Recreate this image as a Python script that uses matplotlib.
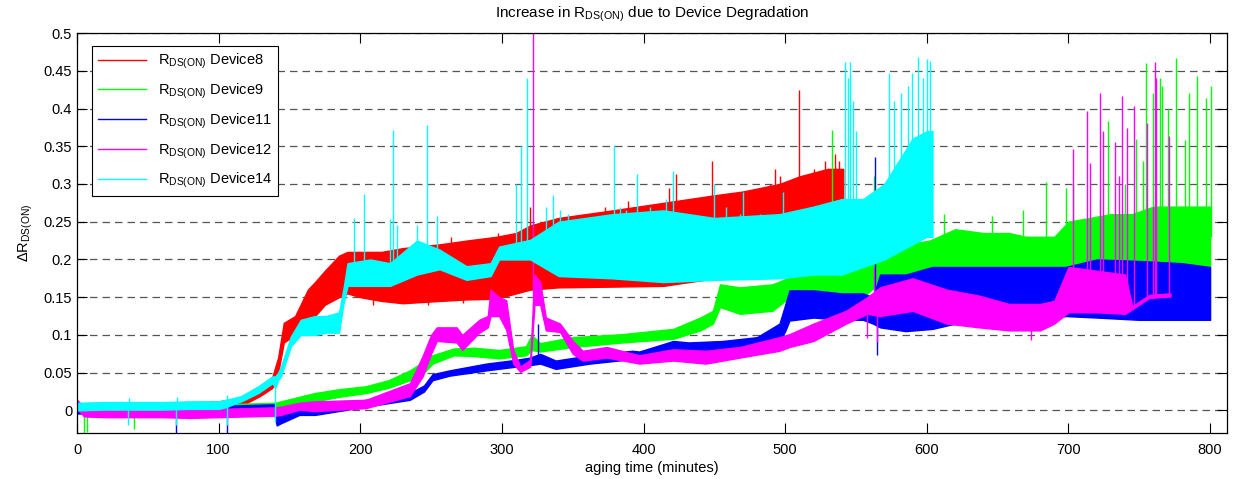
import numpy as np
import matplotlib
matplotlib.use('Agg')
import matplotlib.pyplot as plt
from matplotlib.lines import Line2D
from matplotlib.ticker import FormatStrFormatter

plt.rcParams['font.family'] = ['Liberation Sans', 'DejaVu Sans']
plt.rcParams['mathtext.fontset'] = 'custom'
plt.rcParams['mathtext.rm'] = 'Liberation Sans'
plt.rcParams['mathtext.it'] = 'Liberation Sans:italic'

# Datos: banda de ruido (min/max) por tiempo, mas picos
labels = ['Device8', 'Device9', 'Device11', 'Device12', 'Device14']
colores = ['#ff0000', '#00ff00', '#0000ff', '#ff00ff', '#00ffff']

t_d8 = [0, 20, 40, 60, 80, 100, 110, 120, 130, 138, 142, 146, 154, 163, 168, 175, 185, 191,
        200, 215, 230, 256, 275, 296, 310, 320, 340, 378, 414, 450, 470, 496, 510, 530, 541]
lo_d8 = [-0.002, -0.002, -0.001, -0.001, 0.0, 0.002, 0.005, 0.01, 0.02, 0.03, 0.05, 0.09, 0.1,
         0.12, 0.125, 0.14, 0.15, 0.155, 0.15, 0.145, 0.142, 0.145, 0.147, 0.148, 0.155, 0.16,
         0.163, 0.164, 0.165, 0.175, 0.185, 0.195, 0.2, 0.2, 0.2]
hi_d8 = [0.009, 0.01, 0.01, 0.01, 0.01, 0.012, 0.015, 0.02, 0.032, 0.045, 0.07, 0.116, 0.125,
         0.16, 0.17, 0.185, 0.205, 0.21, 0.21, 0.21, 0.215, 0.22, 0.225, 0.23, 0.235, 0.245,
         0.255, 0.265, 0.275, 0.285, 0.29, 0.3, 0.31, 0.32, 0.32]
pico_t_d8 = [209, 248, 264, 272.6, 297, 320, 357.3, 372.6, 389, 397, 418, 423, 432.5, 442, 448,
             455, 463, 477, 489, 492.5, 496, 510, 520, 528, 535, 538]
pico_v_d8 = [0.14, 0.14, 0.23, 0.142, 0.235, 0.27, 0.246, 0.27, 0.278, 0.25, 0.295, 0.313,
             0.26, 0.28, 0.331, 0.275, 0.27, 0.27, 0.30, 0.32, 0.31, 0.425, 0.32, 0.33, 0.34,
             0.33]

t_d9 = [0, 20, 40, 60, 80, 100, 120, 140, 144, 157, 168, 185, 204, 220, 235, 245, 251, 266,
        280, 298, 317, 321, 327, 350, 385, 421, 440, 449, 454, 468, 491, 503, 520, 540, 555,
        567, 585, 602, 620, 640, 658, 670, 690, 700, 715, 730, 745, 760, 780, 800]
lo_d9 = [-0.004, -0.004, -0.003, -0.003, -0.002, -0.002, 0.0, 0.002, 0.005, 0.01, 0.012,
         0.018, 0.023, 0.03, 0.04, 0.05, 0.062, 0.073, 0.072, 0.069, 0.073, 0.08, 0.078, 0.084,
         0.09, 0.095, 0.106, 0.115, 0.137, 0.128, 0.132, 0.15, 0.15, 0.15, 0.15, 0.17, 0.17,
         0.17, 0.175, 0.172, 0.17, 0.168, 0.17, 0.185, 0.19, 0.19, 0.185, 0.19, 0.19, 0.19]
hi_d9 = [0.008, 0.008, 0.008, 0.008, 0.008, 0.008, 0.009, 0.01, 0.012, 0.018, 0.023, 0.028,
         0.032, 0.04, 0.053, 0.065, 0.073, 0.082, 0.083, 0.08, 0.085, 0.1, 0.089, 0.097, 0.101,
         0.108, 0.123, 0.132, 0.167, 0.163, 0.167, 0.176, 0.19, 0.195, 0.2, 0.22, 0.22, 0.225,
         0.24, 0.235, 0.235, 0.23, 0.23, 0.25, 0.255, 0.26, 0.26, 0.27, 0.27, 0.27]
pico_t_d9 = [5, 7, 40, 321, 533, 563, 612, 646, 668, 684, 698, 703, 722, 728, 740, 748, 752.6,
             755, 760, 764.6, 766, 770, 775.7, 782, 785, 790.5, 796.8, 800.3]
pico_v_d9 = [-0.03, -0.028, -0.025, 0.125, 0.372, 0.31, 0.26, 0.257, 0.266, 0.302, 0.295, 0.3,
             0.28, 0.383, 0.3, 0.36, 0.33, 0.46, 0.42, 0.44, 0.43, 0.40, 0.467, 0.358, 0.42,
             0.443, 0.414, 0.43]

t_d11 = [0, 20, 40, 60, 80, 100, 120, 139, 141, 144, 157, 168, 204, 235, 245, 251, 263, 289,
         310, 320, 327, 338, 362, 392, 397, 421, 432, 456, 480, 496, 500, 503, 520, 540, 555,
         562, 567, 585, 604, 620, 640, 658, 680, 698, 720, 750, 780, 800]
lo_d11 = [-0.004, -0.004, -0.004, -0.004, -0.003, -0.003, -0.002, -0.002, -0.02, -0.017,
          -0.006, -0.006, 0.005, 0.014, 0.025, 0.04, 0.046, 0.053, 0.058, 0.06, 0.062, 0.055,
          0.062, 0.068, 0.066, 0.073, 0.073, 0.079, 0.084, 0.092, 0.105, 0.119, 0.123, 0.12,
          0.12, 0.115, 0.11, 0.105, 0.108, 0.115, 0.118, 0.12, 0.12, 0.125, 0.123, 0.12, 0.12,
          0.12]
hi_d11 = [0.005, 0.005, 0.005, 0.005, 0.005, 0.006, 0.007, 0.008, 0.0, -0.004, 0.001, 0.005,
          0.014, 0.023, 0.033, 0.048, 0.053, 0.062, 0.067, 0.07, 0.075, 0.066, 0.073, 0.079,
          0.078, 0.092, 0.09, 0.092, 0.097, 0.115, 0.14, 0.159, 0.159, 0.155, 0.155, 0.15, 0.18,
          0.18, 0.19, 0.19, 0.19, 0.19, 0.19, 0.19, 0.2, 0.198, 0.195, 0.19]
pico_t_d11 = [70, 105.6, 325.6, 563.6, 564.6]
pico_v_d11 = [-0.03, -0.03, 0.115, 0.336, 0.073]

t_d12 = [0, 5, 20, 40, 60, 80, 100, 120, 140, 144, 157, 168, 204, 235, 244, 250, 254, 268,
         272, 284, 290, 292, 298, 303, 308, 313, 320, 323, 327, 331, 341, 350, 357, 374, 397,
         421, 444, 468, 496, 503, 520, 543, 558, 567, 590, 614, 637, 658, 680, 690, 700, 720,
         740, 745, 757, 772]
lo_d12 = [0.002, -0.008, -0.009, -0.009, -0.009, -0.01, -0.009, -0.008, -0.007, -0.006, 0.001,
          -0.001, 0.003, 0.019, 0.045, 0.075, 0.092, 0.09, 0.08, 0.103, 0.11, 0.125, 0.125,
          0.107, 0.062, 0.051, 0.058, 0.14, 0.14, 0.106, 0.104, 0.075, 0.066, 0.07, 0.062, 0.066,
          0.062, 0.07, 0.079, 0.084, 0.092, 0.115, 0.128, 0.125, 0.132, 0.115, 0.11, 0.106,
          0.106, 0.115, 0.13, 0.13, 0.128, 0.134, 0.149, 0.151]
hi_d12 = [0.014, 0.004, 0.003, 0.002, 0.002, 0.002, 0.002, 0.003, 0.004, 0.005, 0.01, 0.012,
          0.014, 0.036, 0.072, 0.1, 0.11, 0.11, 0.1, 0.12, 0.125, 0.16, 0.15, 0.146, 0.08, 0.058,
          0.067, 0.18, 0.17, 0.123, 0.115, 0.092, 0.079, 0.084, 0.073, 0.081, 0.079, 0.084,
          0.097, 0.101, 0.115, 0.132, 0.15, 0.163, 0.175, 0.16, 0.152, 0.141, 0.141, 0.145, 0.19,
          0.185, 0.18, 0.138, 0.153, 0.155]
pico_t_d12 = [322, 557.7, 563, 565, 673.9, 703, 713, 715, 722, 724.7, 733, 735.8, 738, 741,
              746.4, 755.3, 760, 761, 762, 771.3]
pico_v_d12 = [0.52, 0.096, 0.19, 0.09, 0.093, 0.346, 0.397, 0.328, 0.421, 0.37, 0.355, 0.31,
              0.416, 0.374, 0.403, 0.381, 0.27, 0.461, 0.44, 0.364]

t_d14 = [0, 20, 35, 40, 60, 80, 100, 105, 110, 116, 128, 138, 140, 142, 144, 151, 158, 168,
         176, 185, 188, 191, 207, 221, 240, 256, 275, 292, 298, 320, 340, 378, 414, 450, 496,
         520, 540, 555, 570, 580, 590, 600, 604]
lo_d14 = [0.0, 0.001, 0.001, 0.001, 0.001, 0.002, 0.002, 0.004, 0.008, 0.012, 0.023, 0.036,
          0.03, 0.04, 0.045, 0.085, 0.1, 0.1, 0.103, 0.103, 0.14, 0.165, 0.165, 0.165, 0.18,
          0.187, 0.173, 0.178, 0.2, 0.2, 0.178, 0.175, 0.17, 0.173, 0.175, 0.18, 0.18, 0.19,
          0.2, 0.21, 0.22, 0.23, 0.23]
hi_d14 = [0.01, 0.011, 0.011, 0.011, 0.011, 0.012, 0.012, 0.014, 0.016, 0.019, 0.032, 0.045,
          0.045, 0.05, 0.058, 0.098, 0.12, 0.125, 0.125, 0.13, 0.16, 0.195, 0.2, 0.195, 0.225,
          0.213, 0.191, 0.195, 0.217, 0.226, 0.25, 0.26, 0.265, 0.255, 0.26, 0.27, 0.28, 0.28,
          0.3, 0.33, 0.36, 0.37, 0.37]
pico_t_d14 = [36, 36.5, 70, 70.5, 105.6, 106, 140, 195.5, 202.8, 221, 223.3, 225.6, 239.7,
              246.8, 254.3, 310, 313.5, 318, 331.4, 336, 340.8, 346.7, 364.3, 379, 383.1, 387.9,
              395.6, 404.3, 409, 416, 421, 427.8, 450, 458.4, 467.8, 470, 481.9, 498.4, 542,
              544, 546, 548, 550, 573, 577, 582, 587, 589.5, 594, 597, 600, 602.5]
pico_v_d14 = [-0.02, 0.016, -0.02, 0.018, -0.02, 0.02, -0.015, 0.255, 0.287, 0.253, 0.371,
              0.245, 0.245, 0.378, 0.258, 0.3, 0.35, 0.441, 0.27, 0.286, 0.265, 0.26, 0.25,
              0.352, 0.27, 0.265, 0.313, 0.27, 0.26, 0.28, 0.317, 0.26, 0.3, 0.27, 0.26, 0.29,
              0.26, 0.29, 0.462, 0.44, 0.462, 0.41, 0.37, 0.447, 0.41, 0.42, 0.43, 0.447, 0.468,
              0.44, 0.465, 0.463]

series = [
    (t_d8, lo_d8, hi_d8, pico_t_d8, pico_v_d8),
    (t_d9, lo_d9, hi_d9, pico_t_d9, pico_v_d9),
    (t_d11, lo_d11, hi_d11, pico_t_d11, pico_v_d11),
    (t_d12, lo_d12, hi_d12, pico_t_d12, pico_v_d12),
    (t_d14, lo_d14, hi_d14, pico_t_d14, pico_v_d14),
]

fig = plt.figure(figsize=(12.34, 4.79), dpi=100)
ax = fig.add_axes([0.0624, 0.096, 0.932, 0.835])

handles = []
for i, ((t, lo, hi, pt, pv), c, lab) in enumerate(zip(series, colores, labels)):
    t = np.array(t); lo = np.array(lo); hi = np.array(hi)
    z = 2 + i
    ax.fill_between(t, lo, hi, color=c, lw=1.0, edgecolor=c, zorder=z)
    base = np.interp(pt, t, (lo + hi) / 2)
    ax.vlines(pt, base, pv, color=c, lw=1.0, zorder=z)
    handles.append(Line2D([], [], color=c, lw=1.0,
                          label=r'$\mathrm{R}_{\mathrm{DS(ON)}}$ ' + lab))

ax.set_xlim(0, 812)
ax.set_ylim(-0.03, 0.5)
ax.set_xticks(np.arange(0, 801, 100))
ax.set_yticks(np.arange(0, 0.501, 0.05))
ax.yaxis.set_major_formatter(FormatStrFormatter('%g'))
ax.tick_params(direction='in', top=True, right=True, length=7, labelsize=10.5, width=0.8)
ax.tick_params(axis='x', pad=7)
ax.grid(axis='y', linestyle=(0, (6, 4)), color='#555555', lw=0.9, zorder=1)
ax.set_axisbelow(True)
for s in ax.spines.values():
    s.set_linewidth(0.9)
    s.set_zorder(10)

ax.set_xlabel('aging time (minutes)', fontsize=10.5, labelpad=3)
ax.set_ylabel('Δ$\\mathrm{R}_{\\mathrm{DS(ON)}}$', fontsize=10.5, labelpad=6)
ax.set_title(r'Increase in $\mathrm{R}_{\mathrm{DS(ON)}}$ due to Device Degradation',
             fontsize=11, pad=11)

leg = ax.legend(handles=handles, loc='upper left', bbox_to_anchor=(0.013, 0.9675),
                borderaxespad=0, fontsize=10.5, handlelength=3.3, labelspacing=0.72,
                fancybox=False, framealpha=1, edgecolor='black')
leg.get_frame().set_linewidth(0.8)
leg.set_zorder(20)

fig.savefig('out.png', dpi=100)
